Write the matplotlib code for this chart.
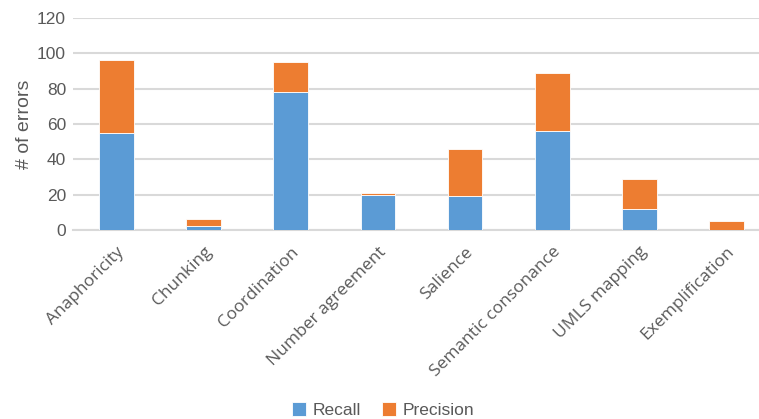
import numpy as np
import matplotlib
matplotlib.use("Agg")
import matplotlib.pyplot as plt

categories = ["Anaphoricity", "Chunking", "Coordination", "Number agreement",
              "Salience", "Semantic consonance", "UMLS mapping", "Exemplification"]
recall = [55, 2, 78, 20, 19, 56, 12, 0]
precision = [41, 4, 17, 1, 27, 33, 17, 5]

blue = "#5B9BD5"
orange = "#ED7D31"
text_col = "#595959"

plt.rcParams['font.family'] = ['Liberation Sans', 'DejaVu Sans']

fig = plt.figure(figsize=(7.59, 4.19), dpi=100)
ax = fig.add_axes([73 / 759, 189 / 419, 1 - 73 / 759, 212 / 419])

x = np.arange(len(categories))
ax.bar(x, recall, width=0.40, color=blue, edgecolor="white", linewidth=0.6,
       label="Recall", zorder=3)
ax.bar(x, precision, width=0.40, bottom=recall, color=orange, edgecolor="white",
       linewidth=0.6, label="Precision", zorder=3)

ax.set_ylim(0, 120)
ax.set_xlim(-0.5, 7.374)
ax.set_yticks(range(0, 121, 20))
ax.yaxis.grid(True, color="#D9D9D9", linewidth=1.5, zorder=0)
ax.set_axisbelow(True)
for s in ["top", "right", "left"]:
    ax.spines[s].set_visible(False)
ax.spines["bottom"].set_color("#D9D9D9")
ax.spines["bottom"].set_linewidth(1.5)
ax.tick_params(axis="both", length=0, colors=text_col, labelsize=12.5)
ax.tick_params(axis="y", pad=5)

ax.set_xticks(x)
ax.set_xticklabels(categories, rotation=45, ha="right", rotation_mode="anchor",
                   family=["Open Sans", "DejaVu Sans"], fontsize=12.5)
ax.tick_params(axis="x", pad=10)

ax.set_ylabel("# of errors", color=text_col, fontsize=14, labelpad=3)

fig.legend(loc="lower center", ncol=2, frameon=False, fontsize=12.5,
           bbox_to_anchor=(0.505, -0.035), handlelength=0.8, handleheight=0.8,
           handletextpad=0.4, columnspacing=1.2, labelcolor=text_col)

fig.savefig("out.png", dpi=100)
